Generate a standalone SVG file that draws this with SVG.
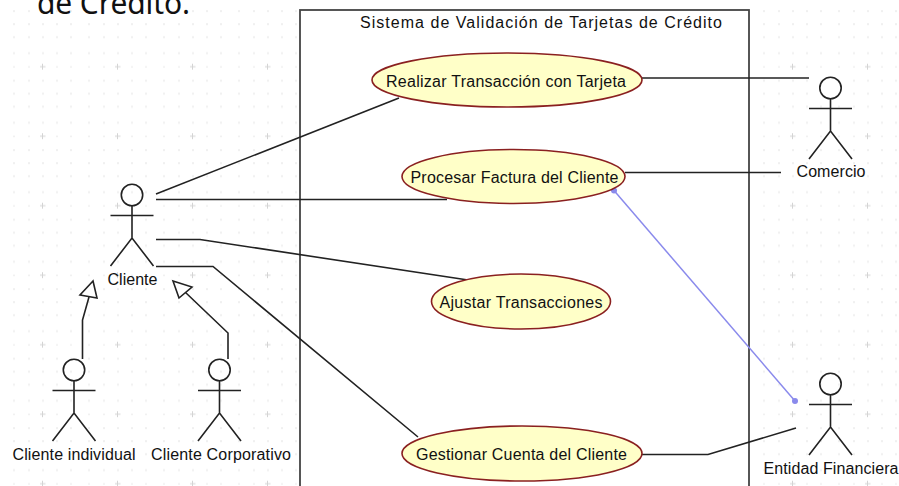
<svg xmlns="http://www.w3.org/2000/svg" xmlns:xlink="http://www.w3.org/1999/xlink" width="899" height="486" viewBox="0 0 899 486">
<style>
text{font-family:"Liberation Sans",Arial,sans-serif;font-size:16px;fill:#111;text-anchor:middle}
.a{fill:none;stroke:#222;stroke-width:1.6}
.c{fill:none;stroke:#222;stroke-width:1.6}
.b{fill:none;stroke:#8a8aec;stroke-width:1.5}
.u{fill:#ffffc8;stroke:#8a2020;stroke-width:1.6}
.g{fill:#fff;stroke:#222;stroke-width:1.6}
.h{font-family:"Noto Sans","DejaVu Sans",sans-serif;font-size:30px;fill:#111;text-anchor:start}
</style>
<defs>
<pattern id="grid" x="5" y="-2.8" width="75" height="69.5" patternUnits="userSpaceOnUse">
<g fill="#f0f0f0">
<rect x="8" y="55" width="2" height="2"/><rect x="23" y="55" width="2" height="2"/><rect x="37" y="55" width="2" height="2"/><rect x="51" y="55" width="2" height="2"/><rect x="65" y="55" width="2" height="2"/>
<rect x="8" y="69" width="2" height="1"/><rect x="23" y="69" width="2" height="1"/><rect x="51" y="69" width="2" height="1"/><rect x="65" y="69" width="2" height="1"/>
<rect x="8" y="0" width="2" height="1"/><rect x="23" y="0" width="2" height="1"/><rect x="51" y="0" width="2" height="1"/><rect x="65" y="0" width="2" height="1"/>
<rect x="8" y="13" width="2" height="2"/><rect x="23" y="13" width="2" height="2"/><rect x="37" y="13" width="2" height="2"/><rect x="51" y="13" width="2" height="2"/><rect x="65" y="13" width="2" height="2"/>
<rect x="8" y="26" width="2" height="2"/><rect x="23" y="26" width="2" height="2"/><rect x="37" y="26" width="2" height="2"/><rect x="51" y="26" width="2" height="2"/><rect x="65" y="26" width="2" height="2"/>
<rect x="8" y="39" width="2" height="2"/><rect x="23" y="39" width="2" height="2"/><rect x="37" y="39" width="2" height="2"/><rect x="51" y="39" width="2" height="2"/><rect x="65" y="39" width="2" height="2"/>
</g>
<path d="M35 0H40.500M37.500 -3V3M35 69.500H40.500M37.500 66.500V72.500" stroke="#d4d4d4" stroke-width="1" fill="none"/>
</pattern>
<g id="actor">
<circle cx="0" cy="0" r="10.700" class="a"/>
<path class="a" d="M0 10.700V43M-21.500 20.500H21.500M-21.500 71L0 43L21.500 71"/>
</g>
</defs>
<rect width="899" height="486" fill="#fff"/>
<rect x="0" y="8" width="899" height="478" fill="url(#grid)"/>
<rect id="system" x="300" y="10" width="449" height="490" fill="#fff" stroke="#444" stroke-width="1.800"/>
<text class="h" x="37" y="14" textLength="153" lengthAdjust="spacing">de Crédito.</text>
<text x="541" y="28" textLength="362" lengthAdjust="spacing">Sistema de Validación de Tarjetas de Crédito</text>
<g id="connectors">
<path class="c" d="M156 194L399 98"/>
<path class="c" d="M156 199.500H447"/>
<path class="c" d="M156 239.500H200L468 280"/>
<path class="c" d="M156 266.500H213L418 437"/>
<path class="c" d="M642 78H809"/>
<path class="c" d="M625 172.500H781"/>
<path class="c" d="M642 454.500H708L796 428"/>
<path class="b" d="M614 190.500L795 401"/>
<circle cx="614" cy="190.500" r="3" fill="#8a8aec"/>
<circle cx="795" cy="401" r="3" fill="#8a8aec"/>
<path class="c" d="M82.500 359V320L89 297"/>
<polygon class="g" points="93,281 80,295 97,298"/>
<path class="c" d="M228 359V333L185 292"/>
<polygon class="g" points="173,281 192,287 179,298"/>
</g>
<g id="uc1"><ellipse class="u" cx="507" cy="80" rx="135" ry="27"/><text x="506" y="87" textLength="240" lengthAdjust="spacing">Realizar Transacción con Tarjeta</text></g>
<g id="uc2"><ellipse class="u" cx="513.500" cy="176.500" rx="111.500" ry="27"/><text x="514.500" y="183" textLength="208" lengthAdjust="spacing">Procesar Factura del Cliente</text></g>
<g id="uc3"><ellipse class="u" cx="521" cy="301.500" rx="89.500" ry="27.500"/><text x="521" y="308" textLength="163" lengthAdjust="spacing">Ajustar Transacciones</text></g>
<g id="uc4"><ellipse class="u" cx="522" cy="453.500" rx="120" ry="27.500"/><text x="521.500" y="459.500" textLength="211" lengthAdjust="spacing">Gestionar Cuenta del Cliente</text></g>
<g id="cliente"><use xlink:href="#actor" href="#actor" x="132" y="195"/><text x="132.500" y="285" textLength="50" lengthAdjust="spacing">Cliente</text></g>
<g id="individual"><use xlink:href="#actor" href="#actor" x="74" y="370"/><text x="74" y="460" textLength="123" lengthAdjust="spacing">Cliente individual</text></g>
<g id="corporativo"><use xlink:href="#actor" href="#actor" x="219.500" y="370"/><text x="221" y="460" textLength="140" lengthAdjust="spacing">Cliente Corporativo</text></g>
<g id="comercio"><use xlink:href="#actor" href="#actor" x="830.500" y="88"/><text x="831" y="177" textLength="69" lengthAdjust="spacing">Comercio</text></g>
<g id="entidad"><use xlink:href="#actor" href="#actor" x="830.500" y="384"/><text x="831" y="474" textLength="135" lengthAdjust="spacing">Entidad Financiera</text></g>
</svg>
